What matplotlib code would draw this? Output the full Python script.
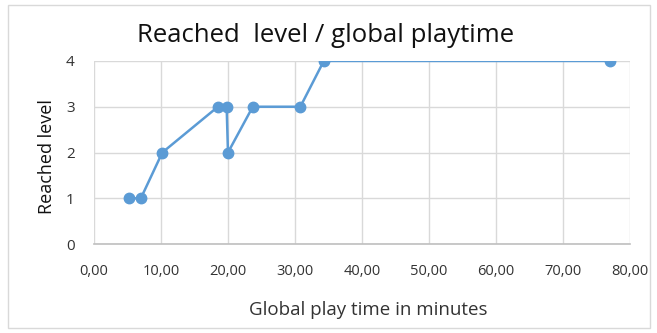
import matplotlib
matplotlib.use("Agg")
import matplotlib.pyplot as plt
from matplotlib.ticker import FuncFormatter
from matplotlib.patches import Rectangle

play_time = [5.2, 7.0, 10.2, 18.5, 19.8, 20.0, 23.7, 30.8, 34.3, 77.0]
level = [1, 1, 2, 3, 3, 2, 3, 3, 4, 4]
x_ticks = [0, 10, 20, 30, 40, 50, 60, 70, 80]
y_ticks = [0, 1, 2, 3, 4]

plt.rcParams['font.family'] = ['Open Sans', 'DejaVu Sans']

fig = plt.figure(figsize=(6.57, 3.33), dpi=100)
ax = fig.add_axes([0.143, 0.267, 0.816, 0.55])

fig.patches.append(Rectangle((0.012, 0.015), 0.978, 0.97, transform=fig.transFigure,
                             fill=False, edgecolor='#D9D9D9', linewidth=1.0))

ax.plot(play_time, level, color='#5B9BD5', linewidth=1.8, marker='o',
        markersize=7.5, markerfacecolor='#5B9BD5', markeredgecolor='#5B9BD5', zorder=3)

ax.set_xlim(0, 80)
ax.set_ylim(0, 4)
ax.set_xticks(x_ticks)
ax.set_yticks(y_ticks)
ax.xaxis.set_major_formatter(FuncFormatter(lambda v, p: f"{v:.2f}".replace('.', ',')))
ax.grid(True, color='#D9D9D9', linewidth=1.0)
ax.set_axisbelow(True)
for s in ['top', 'right', 'left']:
    ax.spines[s].set_visible(False)
ax.spines['bottom'].set_color('#BFBFBF')
ax.spines['bottom'].set_linewidth(1.2)
ax.tick_params(axis='x', length=0, labelsize=10.5, colors='#333333', pad=14)
ax.tick_params(axis='y', length=0, labelsize=11, colors='#333333', pad=14)

fig.text(0.496, 0.892, 'Reached  level / global playtime', fontsize=18.5,
         color='#111111', ha='center', va='center')
fig.text(0.56, 0.068, 'Global play time in minutes', fontsize=13.5,
         color='#333333', ha='center', va='center')
fig.text(0.072, 0.53, 'Reached level', fontsize=13, rotation=90,
         color='#111111', ha='center', va='center')

fig.savefig('out.png', dpi=100)
